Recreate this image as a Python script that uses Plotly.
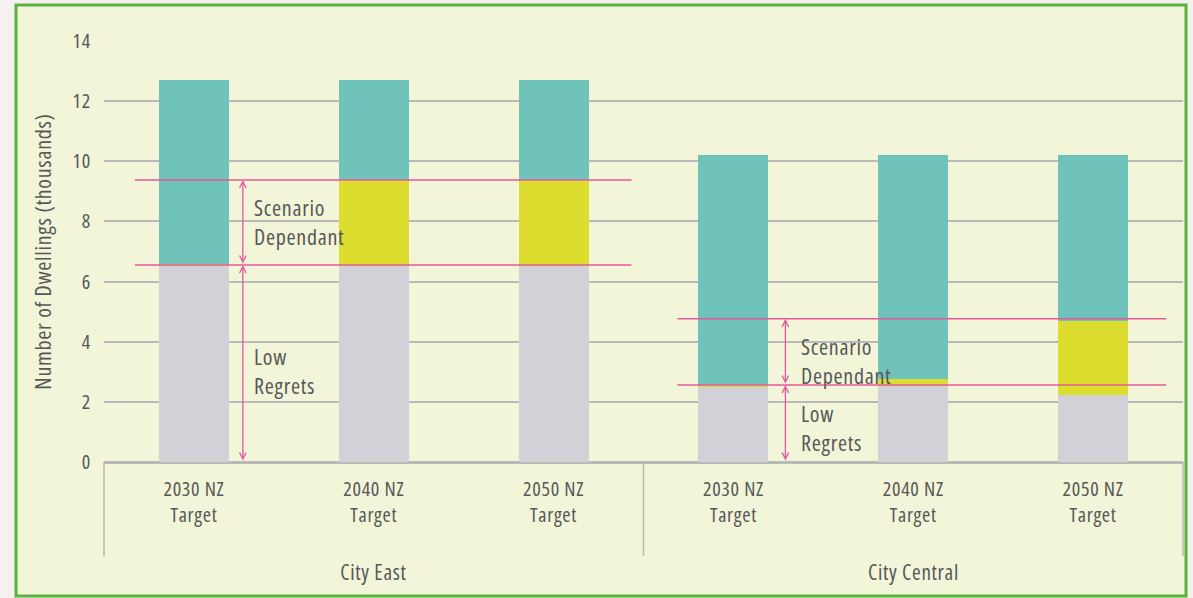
import plotly.graph_objects as go

# ---- data ----
regions = ["City East", "City Central"]
targets = ["2030 NZ<br>Target", "2040 NZ<br>Target", "2050 NZ<br>Target"]
categories = [f"{r} {t}" for r in regions for t in targets]
tick_labels = targets * 2
low_regrets = [6.52, 6.52, 6.52, 2.52, 2.52, 2.22]
scenario_dep = [0.05, 2.85, 2.85, 0.05, 0.24, 2.48]
remaining = [6.13, 3.33, 3.33, 7.63, 7.44, 5.50]
y_ticks = [0, 2, 4, 6, 8, 10, 12, 14]

# threshold lines per region: (lower, upper)
east_levels = (6.55, 9.38)
central_levels = (2.56, 4.76)

FONT = "Open Sans"
TXT = "#585858"
PINK = "#e4589d"
GRID = "#b9b9b9"

def fnt(size):
    return dict(family=FONT, size=size, color=TXT)

fig = go.Figure()
for vals, col in [(low_regrets, "#d3d1d8"), (scenario_dep, "#dcdd2f"), (remaining, "#6fc3bb")]:
    fig.add_trace(go.Bar(x=categories, y=vals, marker=dict(color=col, line=dict(width=0)),
                         width=0.39, showlegend=False))

W, H = 1193, 598
L, R, T, B = 104, 10, 41, 136
pw, ph = W - L - R, H - T - B

def px_to_paper_x(px):
    return (px - L) / pw

def px_to_paper_y(py):
    return (H - B - py) / ph

def idx_to_paper(i):
    return (i + 0.5) / 6

shapes = []
# outer framed panel
shapes.append(dict(type="rect", xref="paper", yref="paper",
                   x0=px_to_paper_x(16), x1=px_to_paper_x(1186),
                   y0=px_to_paper_y(596), y1=px_to_paper_y(5),
                   fillcolor="#f2f5d8", line=dict(color="#5ab33c", width=3), layer="below"))

# group dividers
for xi in [-0.5, 2.5, 5.5]:
    shapes.append(dict(type="line", xref="paper", yref="paper",
                       x0=idx_to_paper(xi), x1=idx_to_paper(xi), y0=0, y1=px_to_paper_y(556),
                       line=dict(color=GRID, width=1.5)))

# pink threshold lines
for (x0, x1), levels in [((-0.328, 2.433), east_levels), ((2.689, 5.406), central_levels)]:
    for lv in levels:
        shapes.append(dict(type="line", xref="paper", yref="y",
                           x0=idx_to_paper(x0), x1=idx_to_paper(x1), y0=lv, y1=lv,
                           line=dict(color=PINK, width=1.5), layer="above"))

annotations = []
for ax_idx, levels, txt_idx, sd_y, lr_y in [(0.272, east_levels, 0.322, 8.0, 3.03),
                                              (3.289, central_levels, 3.367, 3.36, 1.16)]:
    xp = idx_to_paper(ax_idx)
    for y0, y1 in [(0, levels[0]), (levels[0], levels[1])]:
        annotations.append(dict(xref="paper", yref="y", x=xp, y=y1, axref="pixel", ayref="y",
                                ax=0, ay=y0, text="", showarrow=True, arrowhead=5, startarrowhead=5,
                                arrowside="end+start", arrowcolor=PINK, arrowwidth=1.3,
                                arrowsize=1, startarrowsize=1, standoff=0, startstandoff=0))
    for label, yy in [("Scenario<br>Dependant", sd_y), ("Low<br>Regrets", lr_y)]:
        annotations.append(dict(xref="paper", yref="y", x=idx_to_paper(txt_idx), y=yy,
                                text=label, showarrow=False, xanchor="left", yanchor="middle",
                                align="left", font=fnt(22)))

# group labels
for gi, name in enumerate(regions):
    annotations.append(dict(xref="paper", yref="paper", x=idx_to_paper(gi * 3 + 1),
                            y=px_to_paper_y(572), text=name, showarrow=False,
                            xanchor="center", yanchor="middle", font=fnt(21)))

fig.update_layout(
    barmode="stack",
    width=W, height=H,
    margin=dict(l=L, r=R, t=T, b=B),
    paper_bgcolor="#f5f1f0",
    plot_bgcolor="rgba(0,0,0,0)",
    shapes=shapes,
    annotations=annotations,
    font=fnt(19),
    xaxis=dict(type="category", range=[-0.5, 5.5], showgrid=False, showline=True,
               linecolor=GRID, linewidth=1.5, tickvals=categories, ticktext=tick_labels,
               ticklabelstandoff=8, tickfont=fnt(20)),
    yaxis=dict(range=[0, 14], tickvals=y_ticks, showgrid=True, gridcolor=GRID, gridwidth=1.5,
               zeroline=True, zerolinecolor=GRID, zerolinewidth=1.5,
               ticklabelstandoff=12, tickfont=fnt(20),
               title=dict(text="Number of Dwellings (thousands)", standoff=10, font=fnt(22))),
)

post = """
document.body.style.margin='0';
var st=document.createElement('style');
st.textContent='svg text{font-stretch:75% !important; letter-spacing:0.7px;}';
document.head.appendChild(st);
"""
fig.write_html("out.html", post_script=post, config={"displayModeBar": False})
